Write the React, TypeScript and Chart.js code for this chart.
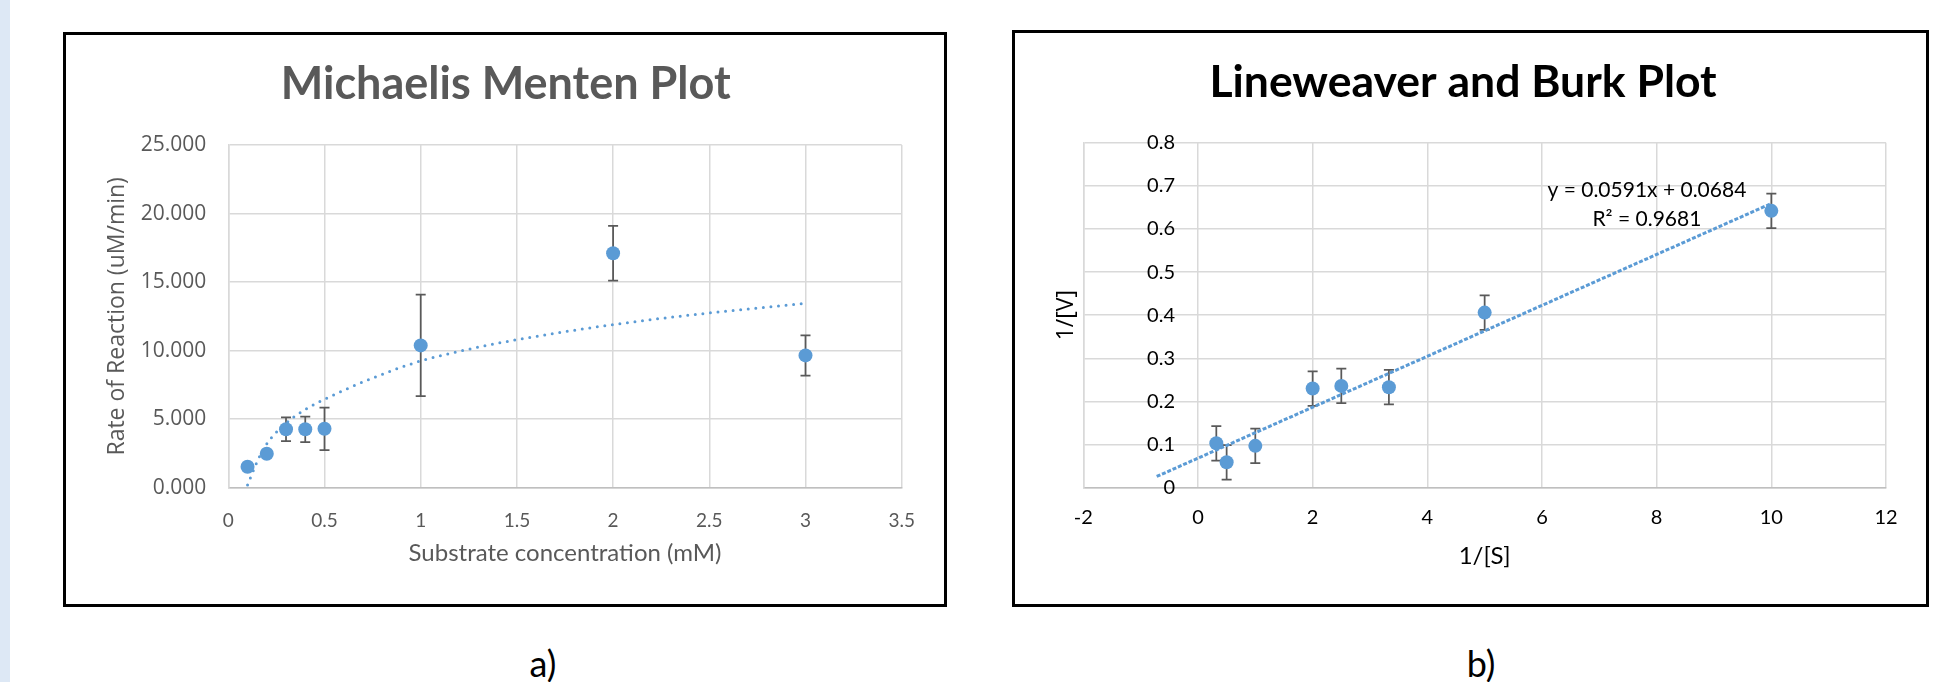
import React, { useEffect, useRef } from 'react';
import { Chart, registerables } from 'chart.js';

Chart.register(...registerables);

// ---------- Michaelis Menten data ----------
const mmSubstrate = [0.1, 0.2, 0.3, 0.4, 0.5, 1, 2, 3];
const mmRate = [1.53, 2.48, 4.26, 4.26, 4.3, 10.38, 17.1, 9.65];
const mmRateErr = [0.1, 0.1, 0.87, 0.93, 1.55, 3.7, 2.0, 1.47];
const mmTrendX = [0.1, 0.15, 0.2, 0.3, 0.4, 0.5, 0.75, 1, 1.25, 1.5, 2, 2.5, 3];
const mmTrendY = [0.2, 1.9, 3.2, 4.7, 5.7, 6.45, 8.0, 9.25, 10.1, 10.8, 11.9, 12.75, 13.45];

// ---------- Lineweaver Burk data ----------
const lbInvS = [0.32, 0.5, 1, 2, 2.5, 3.33, 5, 10];
const lbInvV = [0.103, 0.059, 0.097, 0.23, 0.236, 0.233, 0.406, 0.642];
const lbInvVErr = [0.04, 0.04, 0.04, 0.04, 0.04, 0.04, 0.04, 0.04];
const lbTrendX = [-0.72, 10];
const lbTrendY = [0.026, 0.659];
const lbEquation = ['y = 0.0591x + 0.0684', 'R² = 0.9681'];

const BLUE = '#5b9bd5';
const GRID = '#d9d9d9';
const GRAY = '#595959';

const toPoints = (xs: number[], ys: number[]) => xs.map((x, i) => ({ x, y: ys[i] }));
const plainNum = (v: any) => String(Math.round(Number(v) * 1000) / 1000);

const errorBarPlugin = {
  id: 'errorBars',
  beforeDatasetsDraw(chart: any) {
    const { ctx, scales } = chart;
    const xs = scales.x;
    const ys = scales.y;
    chart.data.datasets.forEach((ds: any) => {
      if (!ds.errors) return;
      ctx.save();
      ctx.strokeStyle = GRAY;
      ctx.lineWidth = 1.75;
      ds.data.forEach((p: any, j: number) => {
        const e = ds.errors[j];
        const px = xs.getPixelForValue(p.x);
        const top = ys.getPixelForValue(p.y + e);
        const bot = ys.getPixelForValue(p.y - e);
        ctx.beginPath();
        ctx.moveTo(px, top);
        ctx.lineTo(px, bot);
        ctx.moveTo(px - 5, top);
        ctx.lineTo(px + 5, top);
        ctx.moveTo(px - 5, bot);
        ctx.lineTo(px + 5, bot);
        ctx.stroke();
      });
      ctx.restore();
    });
  },
};

const equationPlugin = {
  id: 'equation',
  afterDatasetsDraw(chart: any, _args: any, opts: any) {
    if (!opts || !opts.lines) return;
    const { ctx, scales } = chart;
    ctx.save();
    ctx.font = opts.font;
    ctx.fillStyle = opts.color;
    ctx.textAlign = 'center';
    ctx.textBaseline = 'middle';
    opts.lines.forEach((t: string, i: number) => {
      ctx.fillText(t, scales.x.getPixelForValue(opts.x), scales.y.getPixelForValue(opts.y[i]));
    });
    ctx.restore();
  },
};

function measure(texts: string[], font: string) {
  const c = document.createElement('canvas').getContext('2d')!;
  c.font = font;
  return Math.max(...texts.map((t) => c.measureText(t).width));
}

export default function App() {
  const c1 = useRef<HTMLCanvasElement>(null);
  const c2 = useRef<HTMLCanvasElement>(null);

  useEffect(() => {
    const chart1 = new Chart(c1.current!, {
      type: 'scatter',
      data: {
        datasets: [
          {
            label: 'Trend',
            data: toPoints(mmTrendX, mmTrendY),
            showLine: true,
            pointRadius: 0,
            borderColor: BLUE,
            borderWidth: 3,
            borderDash: [0, 7.6],
            borderCapStyle: 'round',
            cubicInterpolationMode: 'monotone',
            fill: false,
          } as any,
          {
            label: 'Rate',
            data: toPoints(mmSubstrate, mmRate),
            errors: mmRateErr,
            pointRadius: 7,
            pointBackgroundColor: BLUE,
            pointBorderColor: BLUE,
            pointBorderWidth: 0,
          } as any,
        ],
      },
      options: {
        responsive: false,
        maintainAspectRatio: false,
        animation: false,
        events: [],
        layout: { padding: { left: 42.7, right: 41.3, top: 0, bottom: 20 } },
        plugins: {
          legend: { display: false },
          tooltip: { enabled: false },
          title: {
            display: true,
            text: 'Michaelis Menten Plot',
            color: GRAY,
            font: { family: 'Lato', size: 45, weight: 'bold', lineHeight: 1.2 },
            padding: { top: 21, bottom: 34 },
          },
        },
        scales: {
          x: {
            type: 'linear',
            min: 0,
            max: 3.5,
            ticks: {
              stepSize: 0.5,
              color: GRAY,
              font: { family: 'Lato', size: 19 },
              padding: 21.9,
              maxRotation: 0,
              callback: plainNum,
            },
            grid: { color: GRID, lineWidth: 1.5, drawTicks: false },
            border: { color: '#bfbfbf', width: 1.5 },
            title: {
              display: true,
              text: 'Substrate concentration (mM)',
              color: GRAY,
              font: { family: 'Lato', size: 24, lineHeight: 1.2 },
              padding: { top: 0, bottom: 15.6 },
            },
            afterFit: (s: any) => {
              s.height = 95.3;
            },
          },
          y: {
            type: 'linear',
            min: 0,
            max: 25,
            ticks: {
              stepSize: 5,
              color: GRAY,
              font: { family: 'Open Sans', size: 21 },
              padding: 22,
              callback: (v: any) => Number(v).toFixed(3),
            },
            grid: { color: GRID, lineWidth: 1.5, drawTicks: false },
            border: { color: GRID, width: 1.5 },
            title: {
              display: true,
              text: 'Rate of Reaction (uM/min)',
              color: GRAY,
              font: { family: 'Open Sans', size: 23, lineHeight: 0.635 },
              padding: { top: 0, bottom: 0 },
            },
            afterFit: (s: any) => {
              s.width = 118.6;
            },
          },
        },
      } as any,
      plugins: [errorBarPlugin],
    });

    const yTickFont = '20px Lato';
    const yLabels = ['0', '0.1', '0.2', '0.3', '0.4', '0.5', '0.6', '0.7', '0.8'];
    const widest = measure(yLabels, yTickFont);

    const chart2 = new Chart(c2.current!, {
      type: 'scatter',
      data: {
        datasets: [
          {
            label: 'Linear',
            data: toPoints(lbTrendX, lbTrendY),
            showLine: true,
            pointRadius: 0,
            borderColor: BLUE,
            borderWidth: 3,
            borderDash: [4, 1.8],
            borderCapStyle: 'butt',
            fill: false,
          } as any,
          {
            label: '1/V',
            data: toPoints(lbInvS, lbInvV),
            errors: lbInvVErr,
            pointRadius: 7,
            pointBackgroundColor: BLUE,
            pointBorderColor: BLUE,
            pointBorderWidth: 0,
          } as any,
        ],
      },
      options: {
        responsive: false,
        maintainAspectRatio: false,
        animation: false,
        events: [],
        layout: { padding: { left: 24, right: 39, top: 0, bottom: 20 } },
        plugins: {
          legend: { display: false },
          tooltip: { enabled: false },
          title: {
            display: true,
            text: 'Lineweaver and Burk Plot',
            color: '#000',
            font: { family: 'Lato', size: 44.5, weight: 'bold', lineHeight: 1.2 },
            padding: { top: 21.3, bottom: 33 },
          },
          equation: {
            lines: lbEquation,
            x: 7.83,
            y: [0.69, 0.623],
            font: '21px Lato',
            color: '#000',
          },
        },
        scales: {
          x: {
            type: 'linear',
            min: -2,
            max: 12,
            ticks: { stepSize: 2, color: '#000', font: { family: 'Lato', size: 20 }, padding: 18.3, maxRotation: 0 },
            grid: { color: GRID, lineWidth: 1.5, drawTicks: false },
            border: { color: '#bfbfbf', width: 1.5 },
            title: {
              display: true,
              text: '1/[S]',
              color: '#000',
              font: { family: 'Lato', size: 24, lineHeight: 1.2 },
              padding: { top: 0, bottom: 12.6 },
            },
            afterFit: (s: any) => {
              s.height = 95.3;
            },
          },
          y: {
            type: 'linear',
            min: 0,
            max: 0.8,
            ticks: {
              stepSize: 0.1,
              color: '#000',
              font: { family: 'Lato', size: 20 },
              mirror: true,
              crossAlign: 'far',
              padding: 91.7 - widest,
            },
            grid: { color: GRID, lineWidth: 1.5, drawTicks: false },
            border: { color: GRID, width: 1.5 },
            title: {
              display: true,
              text: '1/[V]',
              color: '#000',
              font: { family: 'Open Sans', size: 23, lineHeight: 1.2 },
              padding: { top: 12.2, bottom: 0 },
            },
            afterFit: (s: any) => {
              s.width = 43.3;
            },
          },
        },
      } as any,
      plugins: [errorBarPlugin, equationPlugin],
    });

    return () => {
      chart1.destroy();
      chart2.destroy();
    };
  }, []);

  const abs = (o: any) => ({ position: 'absolute' as const, ...o });

  return (
    <div style={abs({ left: 0, top: 0, width: 1946, height: 682, background: '#fff', overflow: 'hidden' })}>
      <div style={abs({ left: 0, top: 0, width: 10, height: 682, background: '#dde8f5' })} />
      <div style={abs({ left: 63, top: 32, width: 884, height: 575, border: '3px solid #000', boxSizing: 'border-box' })} />
      <div style={abs({ left: 1012, top: 30, width: 917, height: 577, border: '3px solid #000', boxSizing: 'border-box' })} />
      <canvas ref={c1} width={876} height={567} style={abs({ left: 67, top: 36, display: 'block' })} />
      <canvas ref={c2} width={909} height={568} style={abs({ left: 1016, top: 35, display: 'block' })} />
      <div style={abs({ left: 543, top: 663, transform: 'translate(-50%, -50%)', font: '36px Lato', lineHeight: 1, color: '#000' })}>a)</div>
      <div style={abs({ left: 1481, top: 663, transform: 'translate(-50%, -50%)', font: '36px Lato', lineHeight: 1, color: '#000' })}>b)</div>
    </div>
  );
}
